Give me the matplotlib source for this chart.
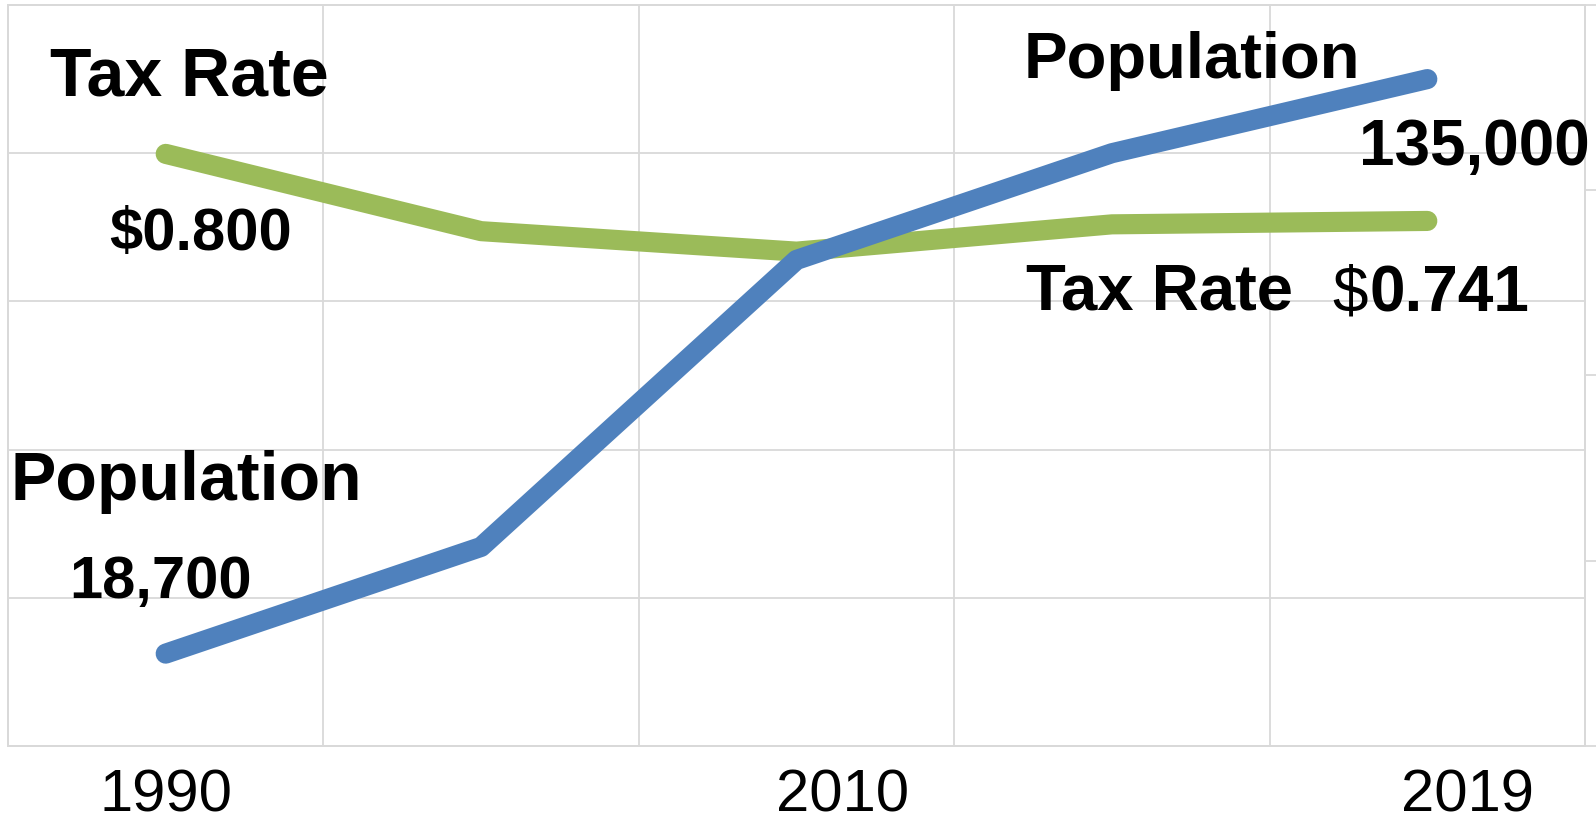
import matplotlib
matplotlib.use("Agg")
import matplotlib.pyplot as plt
import matplotlib.transforms as mtransforms

plt.rcParams['font.family'] = ['Liberation Sans', 'DejaVu Sans']

# 数据
categories = ['1990', '', '2010', '', '2019']
population = [18700, 40300, 98400, 120000, 135000]
tax_rate = [0.800, 0.732, 0.714, 0.738, 0.741]

W, H = 1596, 822
fig = plt.figure(figsize=(W / 100, H / 100), dpi=100)
ax = fig.add_axes([8 / W, 1 - 746 / H, 1577 / W, 741 / H])
ax2 = ax.twinx()

grid_c = '#D9D9D9'
x = list(range(len(categories)))

# 人口轴（左，不显示刻度）
ax.set_xlim(-0.5, len(categories) - 0.5)
ax.set_ylim(0, 150000)
ax.set_yticks(range(0, 150001, 30000))
ax.set_yticklabels([])
ax.tick_params(axis='y', length=0)
ax.set_xticks([i - 0.5 for i in range(len(categories) + 1)], minor=True)
ax.grid(True, which='minor', axis='x', color=grid_c, lw=1.3)
ax.grid(True, which='major', axis='y', color=grid_c, lw=1.3)
ax.set_xticks([i for i, c in enumerate(categories) if c])
ax.set_xticklabels([c for c in categories if c], fontsize=43)
ax.tick_params(axis='x', which='both', length=0, pad=16)
for sp in ax.spines.values():
    sp.set_color(grid_c)
    sp.set_linewidth(1.3)

# 税率轴（右）
ax2.set_ylim(0.279, 0.931)
ax2.set_yticks([0.279 + 0.163 * k for k in range(5)])
ax2.set_yticklabels([])
ax2.tick_params(axis='y', direction='out', length=8, width=1.3, color=grid_c)
for sp in ax2.spines.values():
    sp.set_color(grid_c)
    sp.set_linewidth(1.3)

ax2.plot(x, tax_rate, color='#9BBB59', lw=14.5, solid_capstyle='round', solid_joinstyle='round')
ax2.plot(x, population, color='#4F81BD', lw=14.5, solid_capstyle='round',
         solid_joinstyle='round', transform=ax.transData)

# 横轴标签稍微右移
shifts = {'2010': 46, '2019': 40}
for lab in ax.get_xticklabels():
    dx = shifts.get(lab.get_text(), 0)
    if dx:
        lab.set_transform(lab.get_transform() +
                          mtransforms.ScaledTranslation(dx / 100, 0, fig.dpi_scale_trans))


def put(px, py, s, size, weight='bold', ha='center'):
    fig.text(px / W, 1 - py / H, s, fontsize=size, fontweight=weight, ha=ha, va='baseline')


put(189, 95, 'Tax Rate', 49)
put(201, 250, '${:.3f}'.format(tax_rate[0]), 43)
put(186, 500, 'Population', 49)
put(161, 598, '{:,}'.format(population[0]), 43)
put(1192, 78, 'Population', 47)
put(1474, 165, '{:,}'.format(population[-1]), 46)
put(1160, 310, 'Tax Rate', 47)
put(1368, 312, '$', 46, weight='normal', ha='right')
put(1370, 312, '{:.3f}'.format(tax_rate[-1]), 46, ha='left')

plt.savefig('out.png', dpi=100)
